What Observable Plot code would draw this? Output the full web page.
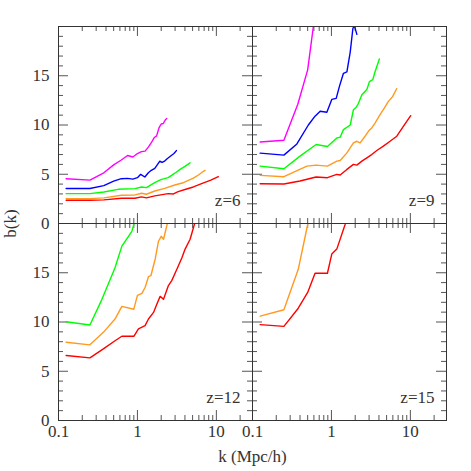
<!DOCTYPE html>
<html><head><meta charset="utf-8">
<script src="https://cdn.jsdelivr.net/npm/d3@7"></script>
<script src="https://cdn.jsdelivr.net/npm/@observablehq/plot@0.6"></script>
<style>body{margin:0;background:#fff}</style>
</head><body><div id="chart"></div>
<script>
// ---- tick definitions ----
const xMajorTicks = [0.1, 1, 10];
const xMinorTicks = [0.2,0.3,0.4,0.5,0.6,0.7,0.8,0.9,2,3,4,5,6,7,8,9,20];
const xTickLabels = ["0.1", "1", "10"];
const yMajorTicks = [0, 5, 10, 15, 20];
const yMinorTicks = [1,2,3,4,6,7,8,9,11,12,13,14,16,17,18,19];
const yTickLabels = [0, 5, 10, 15];

// ---- panels ----
const panelLabels = ["z=6", "z=9", "z=12", "z=15"];
const panelCol = [0, 1, 0, 1];
const panelRow = [0, 0, 1, 1];

// ---- colours ----
const seriesColors = {magenta:"#ff00ff", blue:"#0000ff", green:"#00ff00", orange:"#ff9a20", red:"#ff0000"};

// ---- data: [k (Mpc/h), b(k)] ----
const z6_magenta = [[0.125,4.55],[0.25,4.4],[0.375,5.15],[0.5,5.95],[0.625,6.45],[0.75,6.9],[0.875,6.75],[1.0,7.1],[1.125,7.3],[1.25,7.35],[1.375,7.75],[1.5,8.2],[1.625,8.7],[1.75,8.9],[1.875,9.7],[2.0,10.1],[2.125,10.15],[2.25,10.5],[2.35,10.65]];
const z6_blue = [[0.125,3.55],[0.25,3.55],[0.375,3.85],[0.5,4.3],[0.625,4.55],[0.75,4.58],[0.875,4.5],[1.0,4.65],[1.1,4.99],[1.24,4.72],[1.375,5.15],[1.5,5.4],[1.66,5.6],[1.8,6.0],[1.92,6.33],[2.05,6.2],[2.18,6.3],[2.4,6.6],[2.69,6.9],[2.9,7.1],[3.12,7.4]];
const z6_green = [[0.125,3.03],[0.25,3.03],[0.375,3.2],[0.57,3.47],[0.93,3.54],[1.13,3.71],[1.3,3.64],[1.5,3.95],[1.66,4.14],[2.01,4.48],[2.2,4.55],[2.45,4.65],[2.83,4.99],[3.1,5.2],[3.47,5.49],[4.0,5.8],[4.64,6.16]];
const z6_orange = [[0.125,2.53],[0.25,2.53],[0.375,2.6],[0.63,2.87],[0.93,2.9],[1.13,3.07],[1.3,2.97],[1.66,3.3],[2.22,3.57],[2.97,3.91],[3.82,4.14],[5.12,4.6],[6.0,4.95],[6.84,5.3],[7.2,5.39]];
const z6_red = [[0.125,2.36],[0.25,2.36],[0.375,2.4],[0.63,2.56],[0.93,2.56],[1.13,2.7],[1.3,2.6],[1.66,2.8],[2.45,3.03],[2.86,3.0],[3.28,3.23],[4.2,3.5],[5.12,3.71],[6.5,4.05],[8.5,4.4],[10.6,4.75]];

const z9_magenta = [[0.125,8.28],[0.25,8.45],[0.375,12.1],[0.5,15.6],[0.625,21.5]];
const z9_blue = [[0.125,7.14],[0.25,6.94],[0.365,8.08],[0.51,10.0],[0.62,10.9],[0.72,11.4],[0.875,11.3],[1.01,12.6],[1.15,12.7],[1.26,13.9],[1.42,15.25],[1.57,15.4],[1.73,17.4],[1.87,19.8],[1.95,20.1],[2.1,19.2]];
const z9_green = [[0.125,5.83],[0.25,5.56],[0.4,6.84],[0.64,8.02],[0.89,7.82],[1.17,8.69],[1.29,8.76],[1.42,9.53],[1.73,10.0],[1.9,11.55],[2.06,11.8],[2.2,12.2],[2.43,13.07],[2.81,13.6],[3.03,14.4],[3.34,14.6],[3.57,15.4],[4.05,16.7]];
const z9_orange = [[0.125,4.89],[0.25,4.75],[0.49,5.83],[0.64,5.93],[0.89,5.83],[1.17,6.33],[1.29,6.4],[1.57,7.17],[1.9,8.18],[2.1,8.35],[2.31,8.18],[2.67,8.86],[2.94,9.36],[3.24,9.7],[3.57,10.2],[4.13,11.05],[4.55,11.55],[5.27,12.4],[5.98,12.9],[6.73,13.7]];
const z9_red = [[0.125,4.04],[0.25,4.01],[0.4,4.31],[0.64,4.72],[0.89,4.65],[1.17,4.99],[1.29,4.92],[1.57,5.49],[1.9,6.0],[2.1,5.93],[2.43,6.33],[2.81,6.67],[3.24,7.0],[3.76,7.41],[4.55,7.85],[5.53,8.35],[6.73,8.86],[8.15,9.87],[10.1,10.95]];

const z12_green = [[0.125,10.03],[0.25,9.69],[0.355,12.3],[0.52,15.5],[0.635,17.7],[0.77,18.7],[0.85,19.2],[0.9,19.9],[1.0,21.5]];
const z12_orange = [[0.125,7.94],[0.25,7.68],[0.37,8.95],[0.52,10.3],[0.635,11.58],[0.9,11.3],[1.0,12.7],[1.14,12.9],[1.25,13.5],[1.38,14.6],[1.48,14.7],[1.68,16.4],[1.85,18.2],[2.0,18.7],[2.14,18.4],[2.36,19.8],[2.5,20.8]];
const z12_red = [[0.125,6.6],[0.25,6.36],[0.37,7.27],[0.52,8.1],[0.635,8.55],[0.9,8.55],[1.03,9.3],[1.25,9.63],[1.38,10.3],[1.6,10.97],[1.76,11.8],[1.94,12.6],[2.14,12.3],[2.47,13.7],[2.72,14.2],[3.16,15.35],[3.65,16.5],[4.02,17.4],[4.65,18.4],[5.22,19.8],[5.6,20.6]];

const z15_orange = [[0.125,10.6],[0.25,11.24],[0.38,15.35],[0.5,19.9],[0.625,23.5]];
const z15_red = [[0.125,9.73],[0.25,9.56],[0.38,11.4],[0.5,13.0],[0.62,14.95],[0.89,14.95],[1.01,16.9],[1.17,17.4],[1.49,19.9],[1.625,21.0]];

const seriesList = [
  {panel:0, color:"magenta", pts:z6_magenta},{panel:0, color:"blue", pts:z6_blue},{panel:0, color:"green", pts:z6_green},{panel:0, color:"orange", pts:z6_orange},{panel:0, color:"red", pts:z6_red},
  {panel:1, color:"magenta", pts:z9_magenta},{panel:1, color:"blue", pts:z9_blue},{panel:1, color:"green", pts:z9_green},{panel:1, color:"orange", pts:z9_orange},{panel:1, color:"red", pts:z9_red},
  {panel:2, color:"green", pts:z12_green},{panel:2, color:"orange", pts:z12_orange},{panel:2, color:"red", pts:z12_red},
  {panel:3, color:"orange", pts:z15_orange},{panel:3, color:"red", pts:z15_red}
];

// ---- layout ----
const W = 471, H = 471, mL = 58, mR = 25, mT = 25, mB = 51;
const xMin = 0.1, xMax = 28.7, yMin = 0, yMax = 20;
const panelW = (W - mL - mR) / 2, panelH = (H - mT - mB) / 2;
const pxPerY = panelH / (yMax - yMin);
const pxPerDecade = panelW / Math.log10(xMax / xMin);
const majorLen = 10, minorLen = 5;

const rows = seriesList.flatMap((s, i) => s.pts.map(([k, b]) => ({
  k, b, id: i, stroke: seriesColors[s.color], col: panelCol[s.panel], row: panelRow[s.panel]
})));

const allCols = [0, 1], allRows = [0, 1];
const xLabelRows = allCols.flatMap(col => xMajorTicks.map((v, i) => ({v, label: xTickLabels[i], col, row: 1})));
const yLabelRows = allRows.flatMap(row => yTickLabels.map(v => ({v, label: String(v), col: 0, row})));
const zRows = panelLabels.map((t, i) => ({t, col: panelCol[i], row: panelRow[i]}));

const ink = "#333", tickInk = "#555";
const yLenM = majorLen / pxPerY, yLenm = minorLen / pxPerY;
const xFacM = Math.pow(10, majorLen / pxPerDecade), xFacm = Math.pow(10, minorLen / pxPerDecade);

const chart = Plot.plot({
  width: W, height: H,
  marginLeft: mL, marginRight: mR, marginTop: mT, marginBottom: mB,
  style: {fontFamily: "'Liberation Serif', 'DejaVu Serif', serif", fontSize: "17px", color: ink, background: "#fff", overflow: "visible"},
  x: {type: "log", domain: [xMin, xMax], axis: null},
  y: {domain: [yMin, yMax], axis: null},
  fx: {domain: allCols, padding: 0, axis: null},
  fy: {domain: allRows, padding: 0, axis: null},
  color: {type: "identity"},
  marks: [
    // x ticks bottom & top
    Plot.ruleX(xMajorTicks, {x: d => d, y1: yMin, y2: yMin + yLenM, stroke: tickInk}),
    Plot.ruleX(xMinorTicks, {x: d => d, y1: yMin, y2: yMin + yLenm, stroke: tickInk}),
    Plot.ruleX(xMajorTicks, {x: d => d, y1: yMax, y2: yMax - yLenM, stroke: tickInk}),
    Plot.ruleX(xMinorTicks, {x: d => d, y1: yMax, y2: yMax - yLenm, stroke: tickInk}),
    // y ticks left & right
    Plot.ruleY(yMajorTicks, {y: d => d, x1: xMin, x2: xMin * xFacM, stroke: tickInk}),
    Plot.ruleY(yMinorTicks, {y: d => d, x1: xMin, x2: xMin * xFacm, stroke: tickInk}),
    Plot.ruleY(yMajorTicks, {y: d => d, x1: xMax / xFacM, x2: xMax, stroke: tickInk}),
    Plot.ruleY(yMinorTicks, {y: d => d, x1: xMax / xFacm, x2: xMax, stroke: tickInk}),
    // curves
    Plot.line(rows, {x: "k", y: "b", z: "id", stroke: "stroke", fx: "col", fy: "row", strokeWidth: 1.4, clip: true}),
    Plot.frame({stroke: ink, strokeWidth: 1}),
    // tick labels
    Plot.text(xLabelRows, {x: "v", text: "label", fx: "col", fy: "row", frameAnchor: "bottom", dy: 16, textAnchor: "middle", fill: ink}),
    Plot.text(yLabelRows, {y: "v", text: "label", fx: "col", fy: "row", frameAnchor: "left", dx: -9, textAnchor: "end", fill: ink}),
    // panel labels
    Plot.text(zRows, {text: "t", fx: "col", fy: "row", frameAnchor: "bottom-right", dx: -12, dy: -18, textAnchor: "end", fill: ink, letterSpacing: "1px"}),
    // axis titles
    Plot.text([{t: "k (Mpc/h)", col: 0, row: 1}], {text: "t", fx: "col", fy: "row", frameAnchor: "bottom-right", dy: 41, textAnchor: "middle", fill: ink, letterSpacing: "1.5px"}),
    Plot.text([{t: "b(k)", col: 0, row: 0}], {text: "t", fx: "col", fy: "row", frameAnchor: "bottom-left", dx: -43, rotate: -90, textAnchor: "middle", fill: ink, letterSpacing: "1.5px"})
  ]
});
document.getElementById("chart").appendChild(chart);
</script>
</body></html>
